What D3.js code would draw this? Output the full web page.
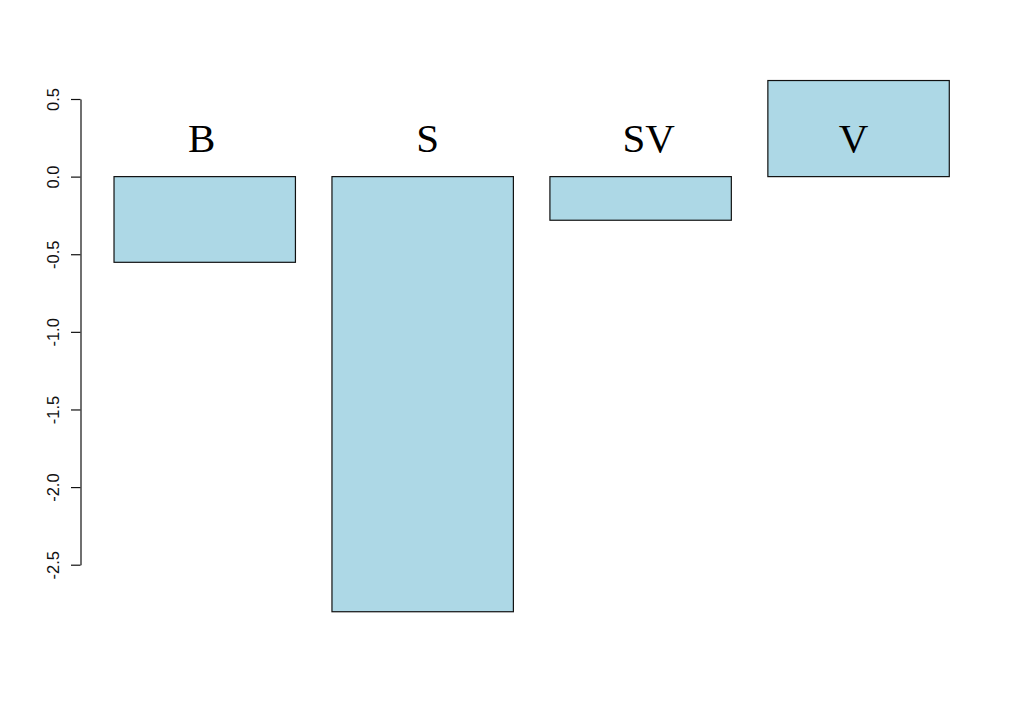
<!DOCTYPE html>
<html><head><meta charset="utf-8">
<script src="https://cdn.jsdelivr.net/npm/d3@7"></script>
<style>html,body{margin:0;padding:0;background:#fff;}svg{display:block;}</style>
</head><body>
<svg id="chart" width="1024" height="712"></svg>
<script>
const categories = ["B", "S", "SV", "V"];
const values = [-0.552, -2.803, -0.281, 0.619];
const yTicks = [-2.5, -2.0, -1.5, -1.0, -0.5, 0.0, 0.5];
const labelDx = [-3, 5, 8, -5];

const svg = d3.select("#chart");
const y = d3.scaleLinear().domain([-2.5, 0.5]).range([564.7, 99]);
const x = d3.scaleBand().domain(categories).range([95.75, 967.55]).paddingInner(0.1676).paddingOuter(0.0838);

svg.selectAll("rect.bar").data(values).enter().append("rect")
  .attr("class", "bar")
  .attr("x", (d, i) => x(categories[i]))
  .attr("width", x.bandwidth())
  .attr("y", d => Math.min(y(d), y(0)))
  .attr("height", d => Math.abs(y(d) - y(0)))
  .attr("fill", "#ADD8E6")
  .attr("stroke", "#111")
  .attr("stroke-width", 1.2);

svg.selectAll("text.cat").data(categories).enter().append("text")
  .attr("class", "cat")
  .attr("x", (d, i) => x(d) + x.bandwidth() / 2 + labelDx[i])
  .attr("y", 152)
  .attr("text-anchor", "middle")
  .attr("font-family", "'Liberation Serif', 'Times New Roman', serif")
  .attr("font-size", 41)
  .attr("fill", "#000")
  .text(d => d);

const fmt = d => d3.format(".1f")(d).replace("\u2212", "-");
const axis = d3.axisLeft(y).tickValues(yTicks).tickFormat(fmt).tickSize(9.5).tickSizeOuter(0);
const g = svg.append("g").attr("transform", "translate(80.5,0)").call(axis);
g.select(".domain").attr("stroke", "#111").attr("stroke-width", 1.2);
g.selectAll(".tick line").attr("stroke", "#111").attr("stroke-width", 1.2);
g.selectAll(".tick text")
  .attr("font-family", "'Liberation Sans', Arial, sans-serif")
  .attr("font-size", 16.5)
  .attr("fill", "#111")
  .attr("x", 0).attr("dy", 0)
  .attr("text-anchor", "middle")
  .attr("transform", "translate(-21.5,0) rotate(-90)");
</script>
</body></html>
